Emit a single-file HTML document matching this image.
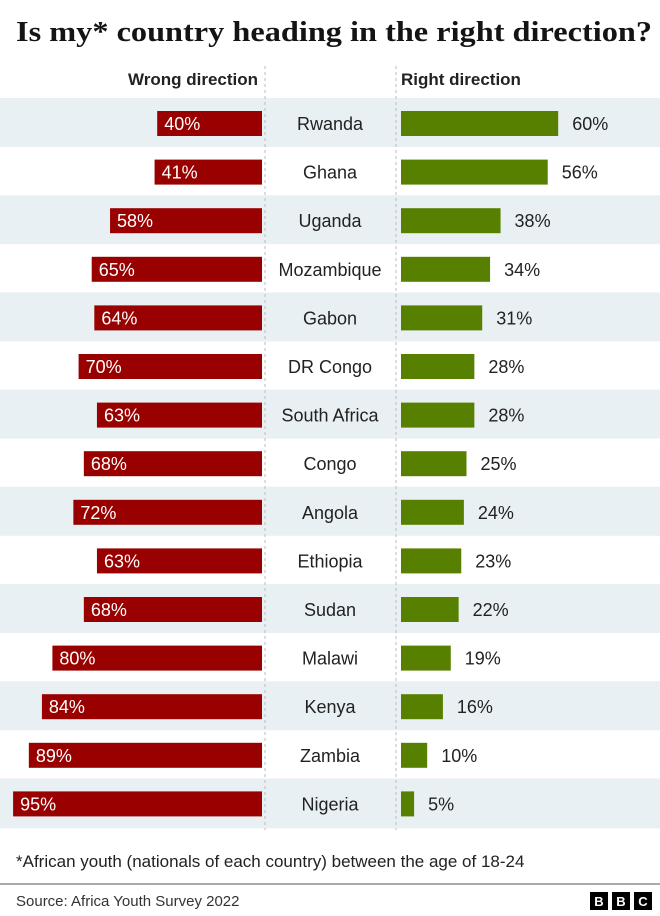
<!DOCTYPE html>
<html><head><meta charset="utf-8"><style>
body{margin:0;background:#fff;}
svg{display:block;}
text{font-family:"Liberation Sans",sans-serif;}
text.title{font-family:"Liberation Serif",serif;}
</style></head><body>
<svg width="660" height="916" viewBox="0 0 660 916" xmlns="http://www.w3.org/2000/svg">
<rect width="660" height="916" fill="#fff"/>
<text class="title" x="16" y="41" font-weight="bold" font-size="28" fill="#141414" textLength="636" lengthAdjust="spacingAndGlyphs">Is my* country heading in the right direction?</text>
<text x="258" y="85" text-anchor="end" font-size="17" font-weight="bold" fill="#222">Wrong direction</text>
<text x="401" y="85" font-size="17" font-weight="bold" fill="#222">Right direction</text>
<g fill="#e9f0f3">
<rect x="0" y="98" width="660" height="49"/>
<rect x="0" y="195.2" width="660" height="49"/>
<rect x="0" y="292.4" width="660" height="49"/>
<rect x="0" y="389.6" width="660" height="49"/>
<rect x="0" y="486.8" width="660" height="49"/>
<rect x="0" y="584" width="660" height="49"/>
<rect x="0" y="681.2" width="660" height="49"/>
<rect x="0" y="778.4" width="660" height="50"/>
</g>
<line x1="265" y1="66" x2="265" y2="830" stroke="#bbb" stroke-dasharray="3,3"/>
<line x1="396" y1="66" x2="396" y2="830" stroke="#bbb" stroke-dasharray="3,3"/>
<g id="rows" font-size="18" fill="#222"></g>
<text x="16" y="867" font-size="17" fill="#222">*African youth (nationals of each country) between the age of 18-24</text>
<line x1="0" y1="884" x2="660" y2="884" stroke="#555" stroke-width="1"/>
<text x="16" y="906" font-size="15" fill="#333">Source: Africa Youth Survey 2022</text>
<g font-size="13" font-weight="bold" fill="#fff" text-anchor="middle">
<rect x="590" y="892" width="18" height="18" fill="#000"/><text x="599" y="906">B</text>
<rect x="612" y="892" width="18" height="18" fill="#000"/><text x="621" y="906">B</text>
<rect x="634" y="892" width="18" height="18" fill="#000"/><text x="643" y="906">C</text>
</g>
</svg>
<script>
const d=[["Rwanda",40,60],["Ghana",41,56],["Uganda",58,38],["Mozambique",65,34],["Gabon",64,31],["DR Congo",70,28],["South Africa",63,28],["Congo",68,25],["Angola",72,24],["Ethiopia",63,23],["Sudan",68,22],["Malawi",80,19],["Kenya",84,16],["Zambia",89,10],["Nigeria",95,5]];
const g=document.getElementById('rows');const s=2.62;let h='';
d.forEach((r,i)=>{const y=111+48.6*i;const w=r[1]*s,gw=r[2]*s;
h+=`<rect x="${262-w}" y="${y}" width="${w}" height="25" fill="#990000"/>`;
h+=`<text x="${262-w+7}" y="${y+19}" fill="#fff">${r[1]}%</text>`;
h+=`<text x="330" y="${y+19}" text-anchor="middle">${r[0]}</text>`;
h+=`<rect x="401" y="${y}" width="${gw}" height="25" fill="#588000"/>`;
h+=`<text x="${401+gw+14}" y="${y+19}">${r[2]}%</text>`;});
g.innerHTML=h;
</script>
</body></html>
